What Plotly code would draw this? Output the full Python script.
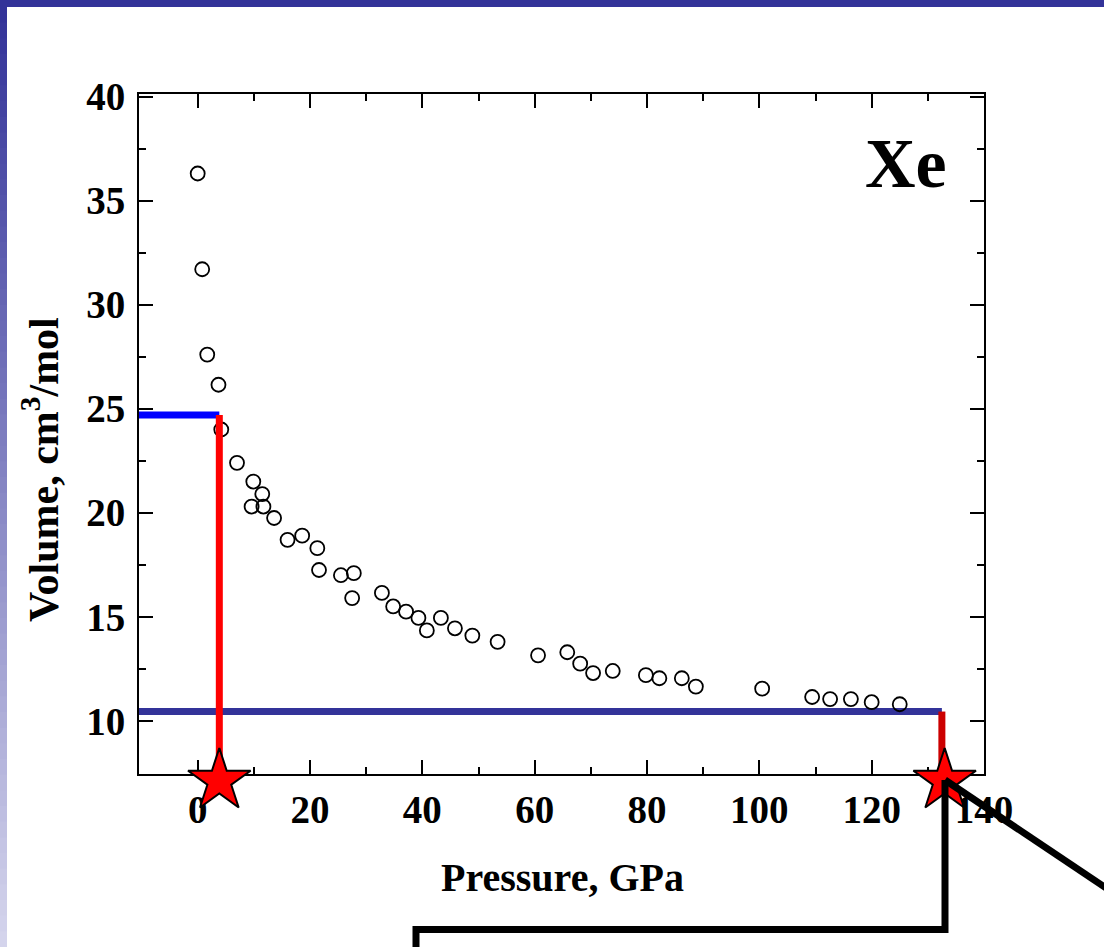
import plotly.graph_objects as go

# ---- data ----
pressure = [0.0, 0.8, 1.7, 3.7, 4.2, 7.0, 9.9, 11.5, 9.6, 11.7, 13.6, 16.0, 18.6, 21.3, 21.6,
            25.5, 27.8, 27.5, 32.8, 34.8, 37.1, 39.3, 40.8, 43.3, 45.8, 48.9, 53.4, 60.6,
            65.8, 68.1, 70.4, 73.9, 79.8, 82.2, 86.2, 88.7, 100.5, 109.4, 112.6, 116.3,
            120.0, 125.0]
volume = [36.3, 31.7, 27.6, 26.15, 24.0, 22.4, 21.5, 20.9, 20.3, 20.3, 19.75, 18.7, 18.9,
          18.3, 17.25, 17.0, 17.1, 15.9, 16.15, 15.5, 15.25, 14.95, 14.35, 14.95, 14.45,
          14.1, 13.8, 13.15, 13.3, 12.75, 12.3, 12.4, 12.2, 12.05, 12.05, 11.65, 11.55,
          11.15, 11.05, 11.05, 10.9, 10.8]

# highlighted read-offs
mark_p = [3.85, 132.5]        # pressures of the vertical guides
mark_v = [24.7, 10.45]        # volumes of the horizontal guides
star_p = [3.85, 133.0]        # star positions
star_v = [7.12, 7.12]         # star level (just below the axis)
x_lo, x_hi = -10.45, 140.0
y_lo, y_hi = 7.45, 40.12

x_ticks = [0, 20, 40, 60, 80, 100, 120, 140]
y_ticks = [10, 15, 20, 25, 30, 35, 40]

W, H = 1104, 947
L, T, R = 139, 94, 120
AX_BOTTOM = 774          # pixel row of the x axis
EXTRA = 24               # extra room below axis for the overflow subplot
B = H - AX_BOTTOM - EXTRA
PW, PH = W - L - R, H - T - B
MAIN_H = AX_BOTTOM - T
y2_lo = y_lo - EXTRA * (y_hi - y_lo) / MAIN_H


def px(xp):
    return (xp - L) / PW


def py(yp):
    return (H - B - yp) / PH


fig = go.Figure()

# guides
fig.add_trace(go.Scatter(x=[x_lo, mark_p[1]], y=[mark_v[1], mark_v[1]], mode="lines",
                         line=dict(color="#333399", width=7), hoverinfo="skip"))
fig.add_trace(go.Scatter(x=[x_lo, mark_p[0]], y=[mark_v[0], mark_v[0]], mode="lines",
                         line=dict(color="#0000FF", width=7), hoverinfo="skip"))

# data
fig.add_trace(go.Scatter(x=pressure, y=volume, mode="markers",
                         marker=dict(symbol="circle-open", size=14, color="black",
                                     line=dict(width=1.8, color="black"))))

# vertical guides + stars on the overflow axis (same scale, extends below)
fig.add_trace(go.Scatter(x=[mark_p[0], mark_p[0]], y=[mark_v[0], star_v[0]], mode="lines",
                         yaxis="y2", line=dict(color="#FF0000", width=7), hoverinfo="skip"))
fig.add_trace(go.Scatter(x=[mark_p[1], mark_p[1]], y=[mark_v[1], star_v[1]], mode="lines",
                         yaxis="y2", line=dict(color="#CC0000", width=7), hoverinfo="skip"))
fig.add_trace(go.Scatter(x=star_p, y=star_v, mode="markers", yaxis="y2", cliponaxis=False,
                         marker=dict(symbol="star", size=47, color="#FF0000",
                                     line=dict(width=2, color="black"))))

shapes = []
# slide decoration: top band
shapes.append(dict(type="rect", xref="paper", yref="paper", x0=px(0), x1=px(W),
                   y0=py(0), y1=py(7), fillcolor="#333399", line=dict(width=0), layer="below"))
# left gradient band
n = 60
c0, c1 = (51, 51, 153), (212, 212, 236)
for i in range(n):
    t = i / (n - 1)
    col = "rgb(%d,%d,%d)" % tuple(round(a + (b - a) * t) for a, b in zip(c0, c1))
    y0p = 7 + (H - 7) * i / n
    y1p = 7 + (H - 7) * (i + 1) / n + 1
    shapes.append(dict(type="rect", xref="paper", yref="paper", x0=px(0), x1=px(7),
                       y0=py(y0p), y1=py(y1p), fillcolor=col, line=dict(width=0), layer="below"))

# callout lines
shapes.append(dict(type="path", xref="paper", yref="paper",
                   path="M %f,%f L %f,%f L %f,%f L %f,%f" % (px(416), py(960), px(416), py(929.5),
                                                             px(945), py(929.5), px(945), py(780)),
                   line=dict(color="black", width=7), layer="above"))
shapes.append(dict(type="line", xref="paper", yref="paper", x0=px(945), y0=py(780),
                   x1=px(1112), y1=py(892), line=dict(color="black", width=7), layer="above"))

serif = "Liberation Serif, Times New Roman, serif"

annotations = [
    dict(text="Xe", xref="paper", yref="paper", x=px(906), y=py(163), xanchor="center",
         yanchor="middle", showarrow=False,
         font=dict(family=serif, size=70, color="black", weight="bold")),
    dict(text="Pressure, GPa", xref="paper", yref="paper", x=px(562), y=py(877),
         xanchor="center", yanchor="middle", showarrow=False,
         font=dict(family=serif, size=40, color="black", weight="bold")),
    dict(text="Volume, cm<sup>3</sup>/mol", xref="paper", yref="paper", x=px(40), y=py(470),
         xanchor="center", yanchor="middle", textangle=-90, showarrow=False,
         font=dict(family=serif, size=42, color="black", weight="bold")),
]

axis_common = dict(showline=True, linecolor="black", linewidth=2, mirror="ticks",
                   ticks="inside", tickwidth=2, tickcolor="black", ticklen=14,
                   showgrid=False, zeroline=False,
                   tickfont=dict(family=serif, size=39, color="black", weight="bold"))

fig.update_layout(
    width=W, height=H, autosize=False,
    margin=dict(l=L, r=R, t=T, b=B),
    paper_bgcolor="white", plot_bgcolor="rgba(0,0,0,0)",
    showlegend=False,
    shapes=shapes, annotations=annotations,
    xaxis=dict(range=[x_lo, x_hi], tickvals=x_ticks, ticklabelstandoff=0, anchor="y",
               minor=dict(tickvals=[10, 30, 50, 70, 90, 110, 130], ticks="inside", ticklen=7,
                          tickwidth=2, tickcolor="black"),
               **axis_common),
    yaxis=dict(range=[y_lo, y_hi], tickvals=y_ticks, ticklabelstandoff=4,
               domain=[EXTRA / PH, 1],
               minor=dict(tickvals=[12.5, 17.5, 22.5, 27.5, 32.5, 37.5], ticks="inside",
                          ticklen=7, tickwidth=2, tickcolor="black"),
               **axis_common),
    yaxis2=dict(range=[y2_lo, y_hi], domain=[0, 1], anchor="x", visible=False,
                showgrid=False, zeroline=False),
)

fig.write_html("out.html")
